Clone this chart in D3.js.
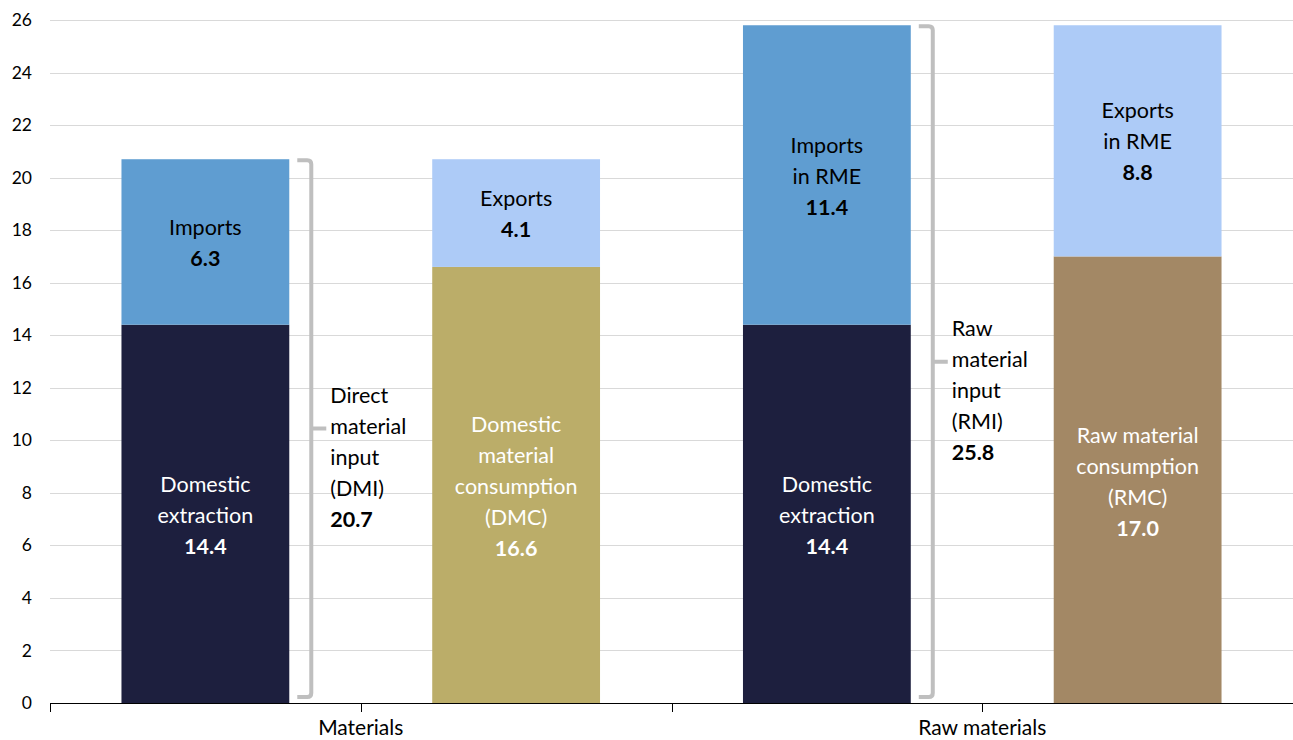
<!DOCTYPE html>
<html>
<head>
<meta charset="utf-8">
<script src="https://cdn.jsdelivr.net/npm/d3@7"></script>
<style>
  html, body { margin: 0; padding: 0; background: #fff; }
  svg { display: block; }
  text { font-family: Lato, "Open Sans", sans-serif; }
</style>
</head>
<body>
<svg id="chart" width="1293" height="740"></svg>
<script>
// Material flow indicators, stacked bars (values in Gt)
const groups = ["Materials", "Raw materials"];
const barKeys = ["DMI", "DMC", "RMI", "RMC"];

const baseValues = [14.4, 16.6, 14.4, 17.0];
const topValues  = [6.3, 4.1, 11.4, 8.8];

const baseLabels = [
  ["Domestic", "extraction"],
  ["Domestic", "material", "consumption", "(DMC)"],
  ["Domestic", "extraction"],
  ["Raw material", "consumption", "(RMC)"]
];
const topLabels = [
  ["Imports"],
  ["Exports"],
  ["Imports", "in RME"],
  ["Exports", "in RME"]
];

const baseColors = ["#1d1f3e", "#bbad69", "#1d1f3e", "#a38865"];
const topColors  = ["#5f9dd1", "#adcbf7", "#5f9dd1", "#adcbf7"];

// Input totals shown with braces beside the first bar of each group
const bracketBars   = [0, 2];
const bracketLabels = [["Direct", "material", "input", "(DMI)"], ["Raw", "material", "input", "(RMI)"]];
const bracketTotals = [20.7, 25.8];

const yTicks = d3.range(0, 27, 2);

const svg = d3.select("#chart");
const plotLeft = 50, plotRight = 1293, plotTop = 20, plotBottom = 703;
const labelSize = 21.5;

const x = d3.scaleBand().domain(barKeys).range([plotLeft, plotRight]).paddingInner(0.46).paddingOuter(0.23);
const xGroup = d3.scaleBand().domain(groups).range([plotLeft, plotRight]);
const y = d3.scaleLinear().domain([0, 26]).range([plotBottom, plotTop]);

// Gridlines
svg.append("g")
  .selectAll("line")
  .data(yTicks.filter(d => d > 0))
  .join("line")
  .attr("x1", plotLeft).attr("x2", plotRight)
  .attr("y1", d => Math.round(y(d)) + 0.5).attr("y2", d => Math.round(y(d)) + 0.5)
  .attr("stroke", "#d9d9d9").attr("stroke-width", 1);

// Y axis labels (no axis line)
const yAxis = svg.append("g")
  .attr("transform", `translate(${plotLeft},0)`)
  .call(d3.axisLeft(y).tickValues(yTicks).tickSize(0).tickPadding(18));
yAxis.select(".domain").remove();
yAxis.selectAll("text")
  .attr("font-family", "'Open Sans', sans-serif")
  .attr("font-size", 17.5).attr("fill", "#000");

// Bars
const bars = svg.append("g");
barKeys.forEach((k, i) => {
  bars.append("rect")
    .attr("x", x(k)).attr("width", x.bandwidth())
    .attr("y", y(baseValues[i])).attr("height", y(0) - y(baseValues[i]))
    .attr("fill", baseColors[i]);
  bars.append("rect")
    .attr("x", x(k)).attr("width", x.bandwidth())
    .attr("y", y(baseValues[i] + topValues[i]))
    .attr("height", y(baseValues[i]) - y(baseValues[i] + topValues[i]))
    .attr("fill", topColors[i]);
});

// Centred multi-line label with a bold value line
const lineH = 31;
function blockLabel(cx, cy, lines, value, color) {
  const all = lines.concat([value.toFixed(1)]);
  const n = all.length;
  const t = svg.append("text")
    .attr("text-anchor", "middle")
    .attr("font-size", labelSize)
    .attr("fill", color);
  all.forEach((s, j) => {
    t.append("tspan")
      .attr("x", cx)
      .attr("y", cy + (j - (n - 1) / 2) * lineH)
      .attr("dy", "0.35em")
      .attr("font-weight", j === n - 1 ? "bold" : "normal")
      .text(s);
  });
}

barKeys.forEach((k, i) => {
  const cx = x(k) + x.bandwidth() / 2;
  blockLabel(cx, (y(0) + y(baseValues[i])) / 2 + 2, baseLabels[i], baseValues[i], "#ffffff");
  blockLabel(cx, (y(baseValues[i]) + y(baseValues[i] + topValues[i])) / 2 + 1, topLabels[i], topValues[i], "#000000");
});

// Braces with totals
bracketBars.forEach((bi, j) => {
  const x0 = x(barKeys[bi]) + x.bandwidth() + 8;
  const xv = x0 + 14;
  const xn = xv + 15;
  const yT = y(bracketTotals[j]) + 1;
  const yB = y(0) - 6;
  const ym = (yT + yB) / 2;
  const r = 4;
  const p = d3.path();
  p.moveTo(x0, yT);
  p.lineTo(xv - r, yT);
  p.quadraticCurveTo(xv, yT, xv, yT + r);
  p.lineTo(xv, yB - r);
  p.quadraticCurveTo(xv, yB, xv - r, yB);
  p.lineTo(x0, yB);
  p.moveTo(xv, ym);
  p.lineTo(xn, ym);
  svg.append("path")
    .attr("d", p.toString())
    .attr("fill", "none")
    .attr("stroke", "#bfbfbf")
    .attr("stroke-width", 4)
    .attr("stroke-linejoin", "round");

  const lines = bracketLabels[j].concat([bracketTotals[j].toFixed(1)]);
  const t = svg.append("text").attr("font-size", labelSize).attr("fill", "#000");
  lines.forEach((s, m) => {
    t.append("tspan")
      .attr("x", xn + 4)
      .attr("y", ym + (m - 1) * lineH - 2)
      .attr("dy", "0.35em")
      .attr("font-weight", m === lines.length - 1 ? "bold" : "normal")
      .text(s);
  });
});

// X axis with boundary ticks and group labels
const axisG = svg.append("g");
axisG.append("line")
  .attr("x1", plotLeft).attr("x2", plotRight)
  .attr("y1", plotBottom + 0.5).attr("y2", plotBottom + 0.5)
  .attr("stroke", "#000").attr("stroke-width", 1);
const boundaries = barKeys.map((k, i) => plotLeft + i * x.step()).concat([plotRight - 0.5]);
axisG.selectAll("line.tick")
  .data(boundaries)
  .join("line")
  .attr("class", "tick")
  .attr("x1", d => Math.round(d) + 0.5).attr("x2", d => Math.round(d) + 0.5)
  .attr("y1", plotBottom).attr("y2", plotBottom + 9)
  .attr("stroke", "#000");
axisG.selectAll("text")
  .data(groups)
  .join("text")
  .attr("x", d => xGroup(d) + xGroup.bandwidth() / 2)
  .attr("y", 735)
  .attr("text-anchor", "middle")
  .attr("font-size", 21)
  .attr("fill", "#000")
  .text(d => d);
</script>
</body>
</html>
